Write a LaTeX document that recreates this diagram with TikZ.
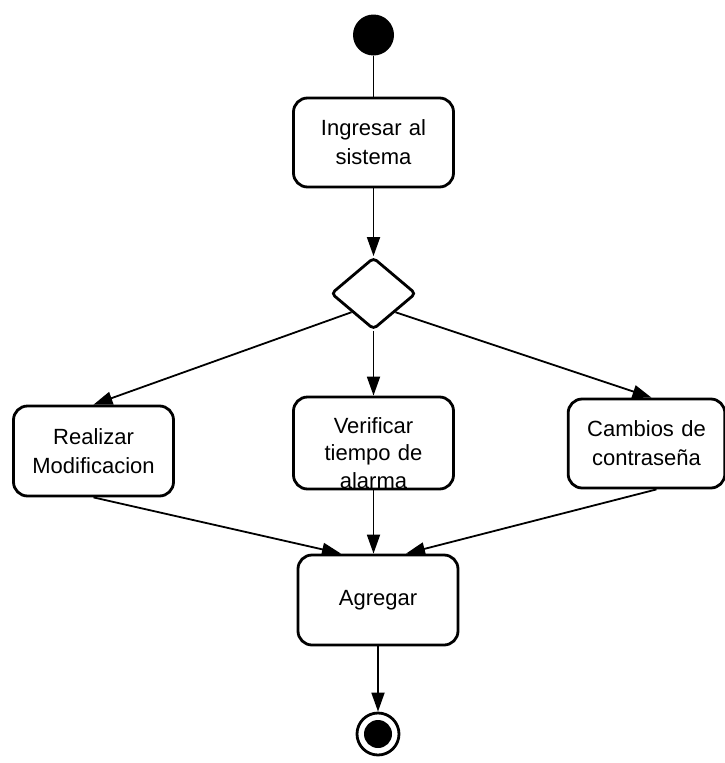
\documentclass[tikz,border=0pt]{standalone}
\usepackage{fontspec}
\setmainfont{Liberation Sans}
\usepackage{tikz}
\usetikzlibrary{shapes.geometric, arrows.meta}
\tikzstyle{process} = [rectangle, rounded corners=14pt, minimum width=160pt, minimum height=89pt, text centered, text width=150pt, draw=black, line width=2.8pt, fill=white, font=\fontsize{22}{29}\selectfont]
\tikzstyle{boxtext} = [text centered, text width=150pt, inner sep=0pt, font=\fontsize{22}{27.5}\selectfont]
\tikzstyle{decision} = [diamond, minimum width=85pt, minimum height=72pt, inner sep=0pt, rounded corners=4pt, draw=black, line width=2.8pt, fill=white]
\tikzstyle{startstate} = [circle, minimum size=41pt, inner sep=0pt, fill=black]
\tikzstyle{endstate} = [circle, minimum size=42pt, inner sep=0pt, draw=black, line width=2.8pt, path picture={\fill[black] (path picture bounding box.center) circle (14pt);}]
\tikzstyle{flow} = [line width=1.8pt, -{Triangle[length=19pt, width=13pt]}]

\begin{document}
\begin{tikzpicture}[node distance=0cm, x=1pt, y=1pt]
\useasboundingbox[fill=white] (0,0) rectangle (724,-763);
\node (s0) [startstate] at (373.5,-35) {};
\node (h1) [process, below of=s0, yshift=-107.5pt] {Ingresar al\\ sistema};
\node (d1) [decision, below of=h1, yshift=-151pt] {};
\node (h3) [process, below of=d1, xshift=-280pt, yshift=-157.5pt, minimum height=90pt] {Realizar\\ Modificacion};
\node (h4) [process, below of=d1, yshift=-149.5pt, minimum height=92pt] {};
\node (h4t) [boxtext, below of=h4, yshift=-10pt] {Verificar\\ tiempo de\\ alarma};
\node (h5) [process, below of=d1, xshift=273pt, yshift=-150pt, minimum width=144pt] {Cambios de\\ contraseña};
\node (h6) [process, below of=h4, xshift=4.5pt, yshift=-157pt, minimum height=90pt] {Agregar};
\node (e1) [endstate, below of=h6, yshift=-134pt] {};
\draw[line width=1.8pt] (s0) -- (h1);
\draw[flow] (h1) -- (d1);
\draw[flow] (d1.south west) -- (h3.north);
\draw[flow] (d1) -- (h4);
\draw[flow] (d1.south east) -- ([xshift=5pt]h5.north);
\draw[flow] (h3.south) -- ([xshift=-37pt]h6.north);
\draw[flow] (h4.south) -- (h4.south |- h6.north);
\draw[flow] ([xshift=10pt]h5.south) -- ([xshift=28pt]h6.north);
\draw[flow] (h6) -- (e1);
\end{tikzpicture}
\end{document}
